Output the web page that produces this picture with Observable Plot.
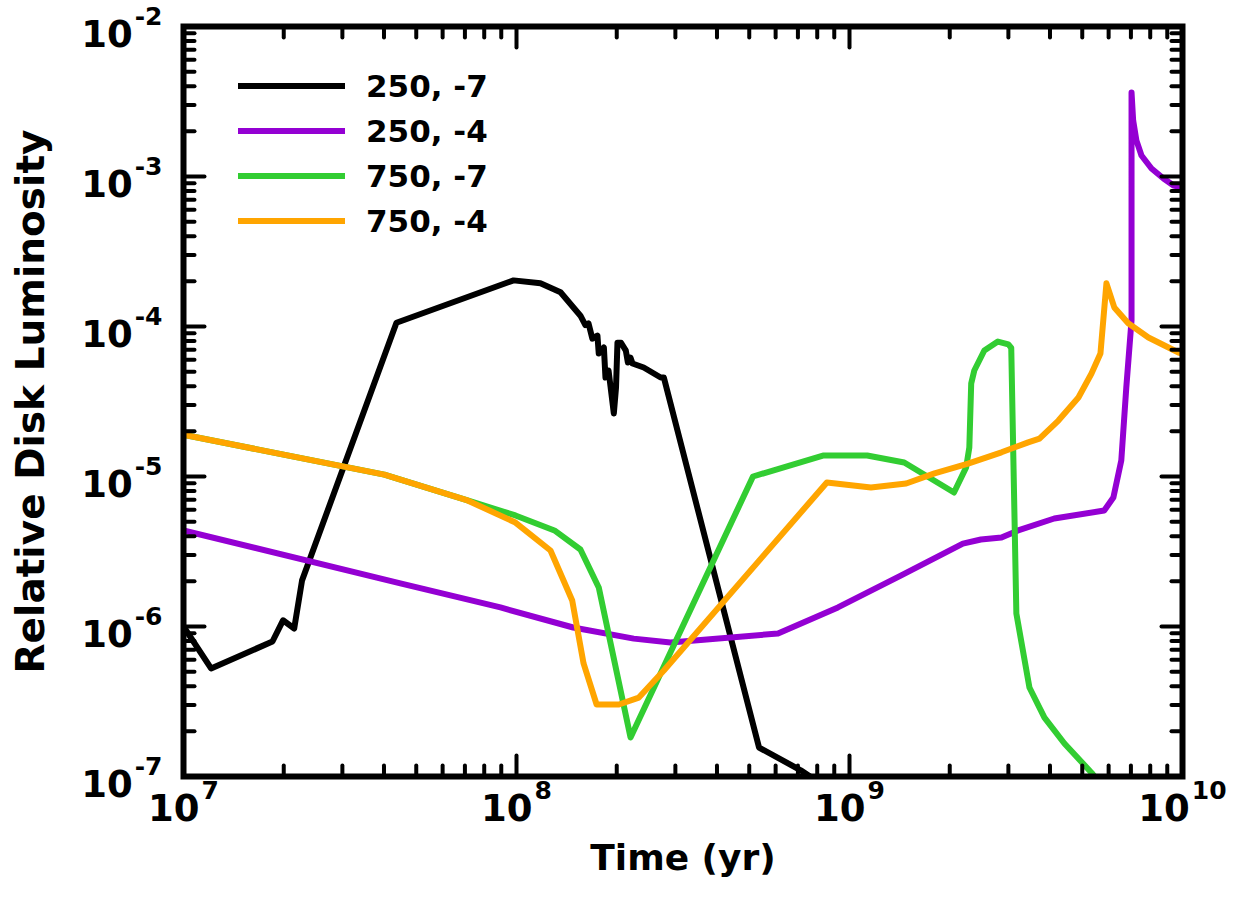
<!DOCTYPE html>
<html>
<head>
<meta charset="utf-8">
<script src="https://cdn.jsdelivr.net/npm/d3@7"></script>
<script src="https://cdn.jsdelivr.net/npm/@observablehq/plot@0.6"></script>
<style>
  html, body { margin: 0; padding: 0; background: #fff; }
  #wrap { position: relative; width: 1239px; height: 899px; font-family: "DejaVu Sans", sans-serif; font-weight: bold; }
  #legend .row { position: absolute; left: 238px; height: 40px; display: flex; align-items: center; }
  #legend .swatch { width: 107px; height: 6px; margin-right: 21px; }
  #legend .lab { font-size: 31px; line-height: 1; color: #000; }
</style>
</head>
<body>
<div id="wrap"><div id="legend"></div></div>
<script>
// ---- series identity ----
const seriesNames  = ["250, -7", "250, -4", "750, -7", "750, -4"];
const seriesColors = ["#000000", "#9400D3", "#32CD32", "#FFA500"];

// ---- series 250, -7 (black) ----
const t_250_7 = [1.0e7, 1.21e7, 1.85e7, 1.99e7, 2.15e7, 2.27e7, 4.36e7, 9.8e7, 1.18e8, 1.356e8, 1.556e8, 1.61e8, 1.645e8,
  1.69e8, 1.75e8, 1.766e8, 1.83e8, 1.85e8, 1.89e8, 1.96e8, 1.99e8, 2.01e8, 2.06e8, 2.13e8, 2.16e8, 2.2e8, 2.23e8,
  2.41e8, 2.71e8, 2.77e8, 5.35e8, 7.14e8, 8.8e8];
const L_250_7 = [1.0e-6, 5.25e-7, 7.94e-7, 1.10e-6, 9.7e-7, 2.03e-6, 1.06e-4, 2.03e-4, 1.94e-4, 1.69e-4, 1.18e-4, 1.02e-4, 1.05e-4,
  8.3e-5, 8.7e-5, 6.6e-5, 7.24e-5, 4.57e-5, 5.09e-5, 2.63e-5, 3.92e-5, 7.8e-5, 7.8e-5, 6.9e-5, 5.75e-5, 6.2e-5, 5.67e-5,
  5.33e-5, 4.57e-5, 4.57e-5, 1.56e-7, 1.1e-7, 8.07e-8];

// ---- series 250, -4 (purple) ----
const t_250_4 = [1e7, 4.48e7, 8.95e7, 1.48e8, 2.25e8, 2.9e8, 6.1e8, 9.23e8, 1.43e9, 2.19e9, 2.48e9, 2.86e9, 3.21e9,
  4.12e9, 5.82e9, 6.2e9, 6.55e9, 6.78e9, 7.03e9, 7.03e9, 7.11e9, 7.27e9, 7.53e9, 8.07e9, 8.77e9, 9.4e9, 1e10];
const L_250_4 = [4.37e-6, 1.94e-6, 1.34e-6, 9.85e-7, 8.3e-7, 7.82e-7, 8.98e-7, 1.34e-6, 2.19e-6, 3.57e-6, 3.8e-6, 3.92e-6, 4.37e-6,
  5.25e-6, 5.93e-6, 7.24e-6, 1.28e-5, 3.92e-5, 1.1e-4, 3.63e-3, 2.36e-3, 1.74e-3, 1.38e-3, 1.13e-3, 9.7e-4, 8.7e-4, 8.45e-4];

// ---- series 750, -7 (green) ----
const t_750_7 = [1e7, 4.01e7, 7.13e7, 9.93e7, 1.3e8, 1.556e8, 1.766e8, 2.2e8, 5.13e8, 8.32e8, 1.13e9, 1.46e9, 2.06e9,
  2.24e9, 2.29e9, 2.32e9, 2.37e9, 2.54e9, 2.79e9, 3.0e9, 3.06e9, 3.17e9, 3.47e9, 3.85e9, 4.42e9, 5.33e9, 5.71e9];
const L_750_7 = [1.9e-5, 1.03e-5, 6.92e-6, 5.5e-6, 4.37e-6, 3.26e-6, 1.82e-6, 1.82e-7, 1.0e-5, 1.38e-5, 1.38e-5, 1.24e-5, 7.82e-6,
  1.15e-5, 1.56e-5, 4.17e-5, 5.09e-5, 6.92e-5, 7.94e-5, 7.6e-5, 7.2e-5, 1.22e-6, 3.92e-7, 2.47e-7, 1.66e-7, 1.06e-7, 8.7e-8];

// ---- series 750, -4 (orange) ----
const t_750_4 = [1e7, 4.01e7, 7.13e7, 9.93e7, 1.265e8, 1.47e8, 1.59e8, 1.74e8, 2.03e8, 2.33e8, 2.77e8, 8.55e8, 1.16e9,
  1.48e9, 1.8e9, 2.27e9, 2.86e9, 3.44e9, 3.72e9, 4.24e9, 4.87e9, 5.33e9, 5.67e9, 5.91e9, 6.24e9, 6.87e9, 7.9e9, 9.73e9, 1e10];
const L_750_4 = [1.9e-5, 1.03e-5, 6.92e-6, 4.93e-6, 3.21e-6, 1.49e-6, 5.67e-7, 3.02e-7, 3.02e-7, 3.36e-7, 5.09e-7, 9.12e-6, 8.45e-6,
  8.98e-6, 1.05e-5, 1.22e-5, 1.45e-5, 1.69e-5, 1.79e-5, 2.36e-5, 3.36e-5, 4.86e-5, 6.6e-5, 1.94e-4, 1.34e-4, 1.05e-4, 8.45e-5, 6.71e-5, 6.6e-5];

// ---- axes ----
const xDomain = [1e7, 1e10];
const yDomain = [1e-7, 1e-2];
const xMajor = [1e7, 1e8, 1e9, 1e10];
const xMajorLabels = ["10^7", "10^8", "10^9", "10^10"];
const yMajor = [1e-7, 1e-6, 1e-5, 1e-4, 1e-3, 1e-2];
const yMajorLabels = ["10^-7", "10^-6", "10^-5", "10^-4", "10^-3", "10^-2"];
const xTitle = "Time (yr)";
const yTitle = "Relative Disk Luminosity";

// minor ticks (2..9 x each decade)
const minorOf = (lo, hi) => {
  const out = [];
  for (let e = lo; e < hi; e++) for (let m = 2; m <= 9; m++) out.push(m * Math.pow(10, e));
  return out;
};
const xMinor = minorOf(7, 10);
const yMinor = minorOf(-7, -2);

const seriesT = [t_250_7, t_250_4, t_750_7, t_750_4];
const seriesL = [L_250_7, L_250_4, L_750_7, L_750_4];
const tables = seriesT.map((ts, s) => ts.map((t, i) => ({t, L: seriesL[s][i], name: seriesNames[s]})));

const tickShape = { draw(ctx, l) { ctx.moveTo(0, 0); ctx.lineTo(0, -l); } };
const MAJ = 21, MIN = 11, TW = 4;
const tickMarks = (vals, len) => [
  Plot.vector(vals, {x: d => d, frameAnchor: "bottom", rotate: 0, length: len, anchor: "start", shape: tickShape, stroke: "black", strokeWidth: TW}),
  Plot.vector(vals, {x: d => d, frameAnchor: "top", rotate: 180, length: len, anchor: "start", shape: tickShape, stroke: "black", strokeWidth: TW})
];
const tickMarksY = (vals, len) => [
  Plot.vector(vals, {y: d => d, frameAnchor: "left", rotate: 90, length: len, anchor: "start", shape: tickShape, stroke: "black", strokeWidth: TW}),
  Plot.vector(vals, {y: d => d, frameAnchor: "right", rotate: 270, length: len, anchor: "start", shape: tickShape, stroke: "black", strokeWidth: TW})
];

const FONT = "DejaVu Sans";
const chart = Plot.plot({
  width: 1239,
  height: 899,
  marginLeft: 183,
  marginRight: 57,
  marginTop: 26,
  marginBottom: 123,
  style: {fontFamily: FONT, background: "white"},
  x: {type: "log", domain: xDomain, axis: null},
  y: {type: "log", domain: yDomain, axis: null},
  marks: [
    ...tables.map((tb, s) => Plot.line(tb, {x: "t", y: "L", stroke: seriesColors[s], strokeWidth: 6, strokeLinejoin: "round", strokeLinecap: "round", clip: true})),
    ...tickMarks(xMinor, MIN),
    ...tickMarks(xMajor, MAJ),
    ...tickMarksY(yMinor, MIN),
    ...tickMarksY(yMajor, MAJ),
    Plot.frame({stroke: "black", strokeWidth: 6}),
    Plot.text(xMajor, {x: d => d, text: (d, i) => xMajorLabels[i], frameAnchor: "bottom", dy: 44, textAnchor: "middle",
      fontSize: 37, fontWeight: "bold", fill: "black"}),
    Plot.text(yMajor, {y: d => d, text: (d, i) => yMajorLabels[i], frameAnchor: "left", dx: -21, dy: 9, textAnchor: "end",
      fontSize: 37, fontWeight: "bold", fill: "black"}),
    Plot.text([xTitle], {frameAnchor: "bottom", dy: 93, textAnchor: "middle", fontSize: 36, fontWeight: "bold", fill: "black"}),
    Plot.text([yTitle], {frameAnchor: "left", dx: -152, rotate: -90, textAnchor: "middle", fontSize: 39, fontWeight: "bold", fill: "black"})
  ]
});

// superscript exponents for tick labels
d3.select(chart).selectAll("text").each(function () {
  if (this.querySelector("tspan")) return;
  const parts = this.textContent.split("^");
  if (parts.length !== 2) return;
  this.textContent = "";
  const sel = d3.select(this);
  sel.append("tspan").text(parts[0]);
  sel.append("tspan").attr("dy", -22).attr("dx", 2).attr("font-size", 25).text(parts[1]);
});

const wrap = document.getElementById("wrap");
wrap.insertBefore(chart, wrap.firstChild);

// legend (inside plot area, top-left)
const legendY = [86, 131, 176, 221];
const legend = d3.select("#legend");
seriesNames.forEach((n, i) => {
  const row = legend.append("div").attr("class", "row").style("top", (legendY[i] - 20) + "px");
  row.append("div").attr("class", "swatch").style("background", seriesColors[i]);
  row.append("span").attr("class", "lab").text(n);
});
</script>
</body>
</html>
